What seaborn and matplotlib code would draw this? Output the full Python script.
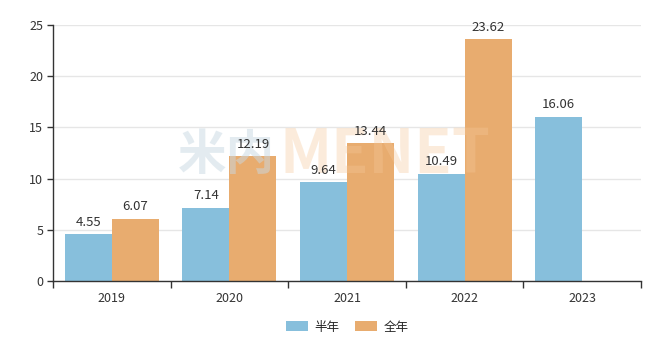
import matplotlib

matplotlib.use("Agg")
import matplotlib.pyplot as plt
import numpy as np
import pandas as pd
import seaborn as sns

years = ["2019", "2020", "2021", "2022", "2023"]
half_year = [4.55, 7.14, 9.64, 10.49, 16.06]
full_year = [6.07, 12.19, 13.44, 23.62, np.nan]
series = ["半年", "全年"]
PALETTE = {"半年": "#87BFDC", "全年": "#E8AC6F"}

sns.set_theme(style="white")
plt.rcParams["font.family"] = ["Noto Sans CJK SC", "DejaVu Sans"]

df = pd.DataFrame({
    "year": years * 2,
    "value": half_year + full_year,
    "series": [series[0]] * len(years) + [series[1]] * len(years),
})

fig = plt.figure(figsize=(6.66, 3.53), dpi=100)
ax = fig.add_axes([53 / 666, 1 - 281 / 353, 588 / 666, 256 / 353])

sns.barplot(data=df, x="year", y="value", hue="series", order=years,
            hue_order=series, palette=PALETTE, width=0.8, saturation=1,
            linewidth=0, ax=ax, zorder=2)

# watermark (faint, sits over the bars like the original)
ax.text(0.295, 0.49, "米内", transform=ax.transAxes, fontsize=35,
        fontweight="bold", color="#C9D9E3", alpha=0.5, ha="center",
        va="center", zorder=3)
ax.text(0.565, 0.49, "MENET", transform=ax.transAxes, fontsize=44,
        fontweight="bold", color="#F6C89A", alpha=0.35, ha="center",
        va="center", zorder=3)

for cont in ax.containers:
    labels = ["" if np.isnan(v) else f"{v:.2f}" for v in cont.datavalues]
    ax.bar_label(cont, labels=labels, padding=4, fontsize=9.5,
                 color="#333333", zorder=4)

ax.set_ylim(0, 25)
ax.set_yticks(range(0, 26, 5))
ax.set_xlim(-0.5, 4.5)
ax.set_xticks(range(len(years)))
ax.set_xticks(np.arange(-0.5, 5, 1), minor=True)
ax.tick_params(axis="x", which="major", length=0, pad=8, labelsize=9,
               labelcolor="#333333")
ax.tick_params(axis="x", which="minor", length=5, width=1, color="#333333",
               direction="out", bottom=True)
ax.tick_params(axis="y", length=4, width=1, color="#333333", labelsize=9,
               labelcolor="#333333", left=True, pad=3)
ax.yaxis.grid(True, color="#E6E6E6", linewidth=1, zorder=0)
ax.set_axisbelow(True)
ax.set_xlabel("")
ax.set_ylabel("")
for s in ["top", "right"]:
    ax.spines[s].set_visible(False)
for s in ["left", "bottom"]:
    ax.spines[s].set_color("#333333")
    ax.spines[s].set_linewidth(1)
ax.patch.set_alpha(0)

ax.legend(loc="center", bbox_to_anchor=(0.5, -0.18), ncol=2, frameon=False,
          fontsize=9, handlelength=1.8, handleheight=0.9, columnspacing=1.2,
          handletextpad=0.5)

fig.savefig("out.png", dpi=100)
